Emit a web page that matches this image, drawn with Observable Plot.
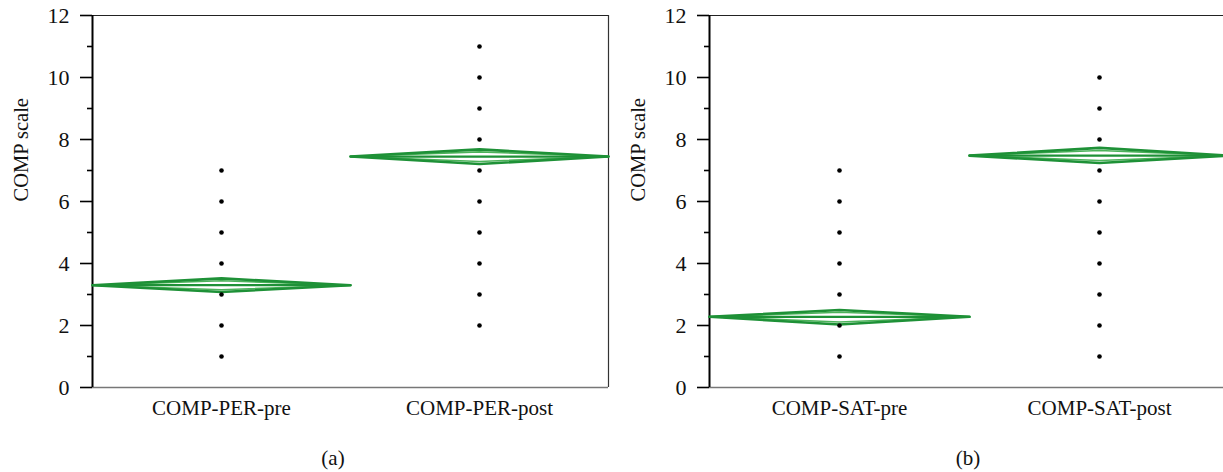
<!DOCTYPE html>
<html>
<head>
<meta charset="utf-8">
<script src="https://cdn.jsdelivr.net/npm/d3@7"></script>
<script src="https://cdn.jsdelivr.net/npm/@observablehq/plot@0.6"></script>
<style>
  html, body { margin: 0; padding: 0; background: #fff; overflow: hidden; }
  #wrap { position: relative; width: 1223px; height: 472px; overflow: hidden; font-family: "Liberation Serif", "DejaVu Serif", serif; color: #111; }
  .panel { position: absolute; top: 0; width: 612px; height: 430px; }
  .panel svg { max-width: none !important; }
  .cap { position: absolute; font-size: 21px; transform: translateX(-50%); top: 446px; }
</style>
</head>
<body>
<div id="wrap">
  <div id="pa" class="panel" style="left:0px"></div>
  <div id="pb" class="panel" style="left:617px"></div>
  <div class="cap" style="left:333px">(a)</div>
  <div class="cap" style="left:968px">(b)</div>
</div>
<script>
// Panel (a)
const categoriesA = ["COMP-PER-pre", "COMP-PER-post"];
const preA = [1, 2, 3, 4, 5, 6, 7];
const postA = [2, 3, 4, 5, 6, 7, 8, 9, 10, 11];
const meansA = [3.3, 7.45];
const lowerA = [3.08, 7.21];
const upperA = [3.52, 7.68];

// Panel (b)
const categoriesB = ["COMP-SAT-pre", "COMP-SAT-post"];
const preB = [1, 2, 3, 4, 5, 6, 7];
const postB = [1, 2, 3, 4, 5, 6, 7, 8, 9, 10];
const meansB = [2.28, 7.48];
const lowerB = [2.03, 7.24];
const upperB = [2.5, 7.73];

const yMajor = [0, 2, 4, 6, 8, 10, 12];
const yMinor = [1, 3, 5, 7, 9, 11];
const yLabel = "COMP scale";

const GREEN_DARK = "#1e9137";
const GREEN_LIGHT = "#4cb35a";

function diamonds(means, lower, upper, factor) {
  const rows = [];
  means.forEach((m, i) => {
    const up = m + (upper[i] - m) * factor;
    const lo = m - (m - lower[i]) * factor;
    rows.push({k: i, x: i, y: m});
    rows.push({k: i, x: i + 0.5, y: up});
    rows.push({k: i, x: i + 1, y: m});
    rows.push({k: i, x: i + 0.5, y: lo});
    rows.push({k: i, x: i, y: m});
  });
  return rows;
}
function meanLines(means) {
  const rows = [];
  means.forEach((m, i) => {
    rows.push({k: i, x: i, y: m});
    rows.push({k: i, x: i + 1, y: m});
  });
  return rows;
}
function dotsOf(groups) {
  const rows = [];
  groups.forEach((vals, i) => vals.forEach(v => rows.push({x: i + 0.5, y: v})));
  return rows;
}

function panel(cats, pre, post, means, lower, upper, opts) {
  return Plot.plot({
    width: 612,
    height: 430,
    marginLeft: 92,
    marginRight: opts.marginRight,
    marginTop: 15,
    marginBottom: 43,
    x: {domain: [0, 2], axis: null},
    y: {domain: [0, 12], axis: null},
    style: {fontFamily: "Liberation Serif, DejaVu Serif, serif", fontSize: "21px", color: "#111", background: "transparent", overflow: "visible", maxWidth: "none"},
    marks: [
      Plot.axisY({ticks: yMajor, tickSize: 12, tickPadding: 11, strokeWidth: 1.6, stroke: "#000", fontSize: 22, label: null}),
      Plot.axisY({ticks: yMinor, tickSize: 5, strokeWidth: 1.6, stroke: "#000", tickFormat: () => "", label: null}),
      Plot.axisX({ticks: [0.5, 1.5], tickFormat: v => cats[Math.floor(v)], tickSize: 0, tickPadding: 13, fontSize: 21, label: null}),
      Plot.text([yLabel], {frameAnchor: "left", dx: -71, rotate: -90, fontSize: 20.5, fill: "#111"}),
      Plot.ruleY([0], {stroke: "#777", strokeWidth: 1.5}),
      Plot.ruleY([12], {stroke: "#222", strokeWidth: 1.2}),
      ...(opts.rightBorder ? [Plot.ruleX([2], {stroke: "#333", strokeWidth: 1.2})] : []),
      Plot.ruleX([0], {stroke: "#000", strokeWidth: 2}),
      Plot.line(diamonds(means, lower, upper, 0.66), {x: "x", y: "y", z: "k", stroke: GREEN_LIGHT, strokeWidth: 1.6}),
      Plot.line(diamonds(means, lower, upper, 1), {x: "x", y: "y", z: "k", stroke: GREEN_DARK, strokeWidth: 2.6}),
      Plot.line(meanLines(means), {x: "x", y: "y", z: "k", stroke: GREEN_DARK, strokeWidth: 2.2}),
      Plot.dot(dotsOf([pre, post]), {x: "x", y: "y", r: 2.3, fill: "#000", stroke: "none"})
    ]
  });
}

document.getElementById("pa").appendChild(
  panel(categoriesA, preA, postA, meansA, lowerA, upperA, {marginRight: 4, rightBorder: true})
);
document.getElementById("pb").appendChild(
  panel(categoriesB, preB, postB, meansB, lowerB, upperB, {marginRight: 0, rightBorder: false})
);
</script>
</body>
</html>
